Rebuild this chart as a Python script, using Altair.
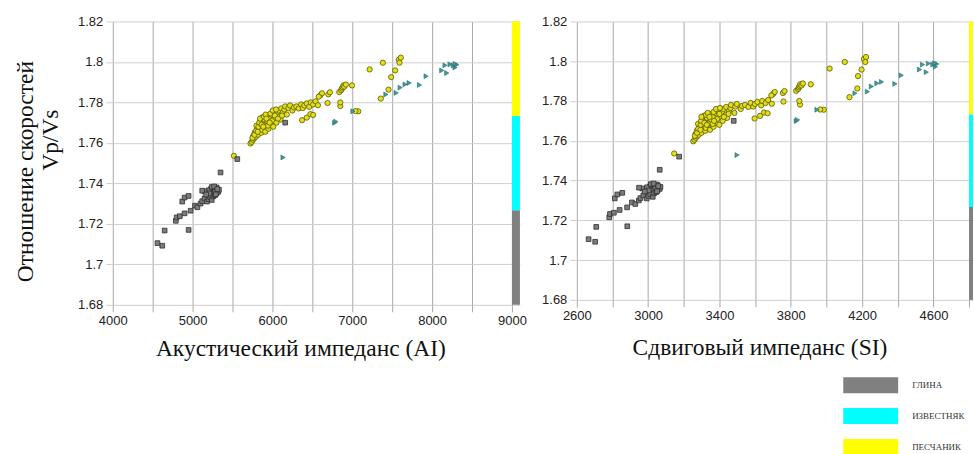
import altair as alt
import pandas as pd

# ---- Clay (ГЛИНА): acoustic impedance, shear impedance, Vp/Vs ----
clay_ai = [4560, 4620, 4650, 4950, 4790, 4800, 4840, 4900, 4975, 5030, 4870, 4900, 4950, 5060, 5100,
           5120, 5150, 5180, 5200, 5220, 5240, 5260, 5280, 5300, 5320, 5250, 5230, 5200, 5150, 5120,
           5260, 5280, 5300, 5240, 5330, 5210, 5170, 5290, 5350, 5560, 6160, 5270, 5310]
clay_si = [2666, 2703, 2709, 2883, 2782, 2786, 2808, 2840, 2882, 2909, 2813, 2827, 2855, 2928, 2948,
           2957, 2973, 2992, 3002, 3012, 3026, 3034, 3045, 3054, 3065, 3024, 3011, 2994, 2967, 2949,
           3027, 3040, 3050, 3015, 3069, 3003, 2981, 3050, 3065, 3174, 3480, 3031, 3057]
clay_vpvs = [1.7105, 1.7092, 1.7167, 1.7170, 1.7215, 1.7232, 1.7238, 1.7252, 1.7265, 1.7290, 1.7310,
             1.7330, 1.7338, 1.7282, 1.7300, 1.7312, 1.7325, 1.7310, 1.7322, 1.7332, 1.7318, 1.7336,
             1.7342, 1.7352, 1.7358, 1.7362, 1.7372, 1.7366, 1.7360, 1.7364, 1.7376, 1.7368, 1.7380,
             1.7382, 1.7368, 1.7350, 1.7345, 1.7346, 1.7454, 1.7520, 1.7700, 1.7385, 1.7372]

# ---- Limestone (ИЗВЕСТНЯК) ----
lime_ai = [6133, 6780, 6795, 7008, 7421, 7550, 7600, 7662, 7712, 7842, 7925, 8121, 8183, 8162, 8225,
           8266, 8287, 8308, 8290]
lime_si = [3499, 3831, 3838, 3947, 4160, 4230, 4252, 4283, 4309, 4384, 4420, 4522, 4560, 4539, 4572,
           4597, 4611, 4619, 4608]
lime_vpvs = [1.7528, 1.7699, 1.7705, 1.7756, 1.7839, 1.7847, 1.7873, 1.7889, 1.7896, 1.7886, 1.7929,
             1.7958, 1.7945, 1.7983, 1.7988, 1.7983, 1.7972, 1.7986, 1.7990]

# ---- Sandstone (ПЕСЧАНИК) ----
sand_ai = [5725, 5740, 5755, 5770, 5760, 5790, 5800, 5780, 5820, 5830, 5810, 5800, 5840, 5850, 5860,
           5870, 5880, 5850, 5870, 5900, 5900, 5910, 5920, 5940, 5950, 5960, 5930, 5980, 5990, 6000,
           6010, 6020, 6040, 6050, 6060, 6080, 6090, 6100, 6110, 6130, 6150, 6160, 6180, 6200, 6220,
           6250, 6270, 6300, 6330, 6360, 6380, 6400, 6430, 6460, 6480, 6510, 6540, 6570, 6600, 6620,
           6580, 6700, 6720, 6690, 6371, 6430, 6475, 6510, 5517, 6837, 6850, 6850, 6860, 6870, 6880,
           6890, 6900, 6920, 6996, 7075, 7040, 7217, 7383, 7537, 7487, 7583, 7608, 7591, 7454, 7358,
           5750, 5775, 5795, 5815, 5825, 5835, 5845, 5865, 5885, 5895, 5915, 5925, 5945, 5965, 5975,
           6005, 6030, 6045, 6070, 6120]
sand_si = [3253, 3260, 3267, 3274, 3266, 3284, 3287, 3274, 3299, 3301, 3288, 3280, 3301, 3310, 3320,
           3323, 3322, 3303, 3312, 3330, 3337, 3347, 3346, 3355, 3367, 3363, 3344, 3380, 3377, 3388,
           3399, 3392, 3408, 3418, 3415, 3423, 3435, 3443, 3438, 3454, 3462, 3465, 3484, 3489, 3497,
           3519, 3527, 3543, 3562, 3575, 3590, 3599, 3613, 3634, 3640, 3659, 3673, 3694, 3701, 3710,
           3691, 3756, 3765, 3759, 3597, 3628, 3650, 3670, 3146, 3830, 3852, 3848, 3841, 3845, 3849,
           3853, 3860, 3868, 3912, 3985, 3965, 4018, 4103, 4197, 4177, 4210, 4222, 4218, 4173, 4129,
           3262, 3274, 3281, 3294, 3295, 3297, 3299, 3315, 3329, 3325, 3334, 3344, 3362, 3370, 3367,
           3381, 3400, 3403, 3425, 3451]
sand_vpvs = [1.7597, 1.7605, 1.7615, 1.7622, 1.7635, 1.7630, 1.7645, 1.7652, 1.7640, 1.7660, 1.7670,
             1.7685, 1.7690, 1.7675, 1.7650, 1.7665, 1.7700, 1.7710, 1.7725, 1.7715, 1.7680, 1.7655,
             1.7690, 1.7705, 1.7670, 1.7720, 1.7735, 1.7690, 1.7740, 1.7710, 1.7680, 1.7750, 1.7725,
             1.7700, 1.7745, 1.7760, 1.7730, 1.7715, 1.7770, 1.7750, 1.7765, 1.7780, 1.7740, 1.7772,
             1.7785, 1.7760, 1.7775, 1.7780, 1.7770, 1.7790, 1.7772, 1.7785, 1.7795, 1.7778, 1.7800,
             1.7790, 1.7805, 1.7786, 1.7835, 1.7845, 1.7828, 1.7840, 1.7850, 1.7797, 1.7712, 1.7725,
             1.7742, 1.7738, 1.7536, 1.7851, 1.7782, 1.7800, 1.7860, 1.7868, 1.7875, 1.7884, 1.7878,
             1.7888, 1.7884, 1.7756, 1.7757, 1.7963, 1.7996, 1.7958, 1.7925, 1.8011, 1.8021, 1.7996,
             1.7863, 1.7819, 1.7625, 1.7640, 1.7660, 1.7655, 1.7680, 1.7700, 1.7720, 1.7690, 1.7680,
             1.7730, 1.7740, 1.7720, 1.7685, 1.7700, 1.7745, 1.7760, 1.7735, 1.7765, 1.7720, 1.7735]

# ---- Lithology colour bar / legend ----
lith_names = ["ГЛИНА", "ИЗВЕСТНЯК", "ПЕСЧАНИК"]
lith_colors = ["#808080", "#00ffff", "#ffff00"]
band_lo = [1.68, 1.7267, 1.7733]
band_hi = [1.7267, 1.7733, 1.82]

y_ticks = [1.68, 1.70, 1.72, 1.74, 1.76, 1.78, 1.80, 1.82]
ai_ticks = list(range(4000, 9001, 500))
si_ticks = list(range(2600, 4801, 200))

y_title_line1 = "Отношение скоростей"
y_title_line2 = ["Vp/Vs"]

TITLE_SIZE = 23.5


def frame(xs, ys, name):
    return pd.DataFrame({"x": xs, "vpvs": ys, "lith": name})


LEGEND = alt.Legend(
    orient="none", legendX=752, legendY=357, title=None, direction="vertical",
    symbolType="M-3.667,-1.07H3.667V1.07H-3.667Z", symbolSize=225, symbolStrokeWidth=0,
    labelFont="Liberation Serif", labelFontSize=9, labelColor="#333333",
    labelOffset=34, rowPadding=14,
)


def panel(clay_x, lime_x, sand_x, domain, ticks, label_expr, xtitle, title_x, title_y,
          height, with_ytitle, band_x0, band_x1, width):
    xenc = alt.X("x:Q", scale=alt.Scale(domain=domain, nice=False, zero=False),
                 axis=alt.Axis(values=ticks, labelExpr=label_expr, format="d", title=xtitle,
                               labelFlush=False,
                               titleX=title_x, titleY=title_y, titleAlign="center",
                               titleBaseline="alphabetic"))
    if with_ytitle:
        yaxis = alt.Axis(values=y_ticks, format=".2~f", title=y_title_line1, titleAngle=270,
                         labelFlush=False,
                         titleX=-87, titleY=150, titleAlign="center", titleBaseline="middle")
    else:
        yaxis = alt.Axis(values=y_ticks, format=".2~f", title=None, labelFlush=False)
    yenc = alt.Y("vpvs:Q", scale=alt.Scale(domain=[1.68, 1.82], nice=False, zero=False), axis=yaxis)

    band = pd.DataFrame({"x": [band_x0] * 3, "x_end": [band_x1] * 3, "vpvs": band_lo,
                         "vpvs_end": band_hi, "lith": lith_names})
    sand = alt.Chart(frame(sand_x, sand_vpvs, "ПЕСЧАНИК")).mark_point(
        shape="circle", filled=True, fill="#e2df1a", stroke="#5c5a00", strokeWidth=0.8,
        size=28, opacity=1).encode(x=xenc, y=yenc)
    clay = alt.Chart(frame(clay_x, clay_vpvs, "ГЛИНА")).mark_point(
        shape="square", filled=True, fill="#7c7c7c", stroke="#2e2e2e", strokeWidth=0.8,
        size=22, opacity=1).encode(x=xenc, y=yenc)
    lime = alt.Chart(frame(lime_x, lime_vpvs, "ИЗВЕСТНЯК")).mark_point(
        shape="triangle-right", filled=True, fill="#3f9e9e", stroke="#2a6a6a", strokeWidth=0.6,
        size=24, opacity=1).encode(x=xenc, y=yenc)
    bar = alt.Chart(band).mark_rect().encode(
        x=xenc, x2="x_end:Q", y=yenc, y2="vpvs_end:Q",
        color=alt.Color("lith:N", scale=alt.Scale(domain=lith_names, range=lith_colors),
                        legend=LEGEND))
    layers = [bar, sand, clay, lime]
    if with_ytitle:
        ylab = alt.Chart(pd.DataFrame({"t": y_title_line2})).mark_text(
            angle=270, font="Liberation Serif", fontSize=TITLE_SIZE, color="#111111",
            align="center", baseline="middle").encode(
            x=alt.value(-62), y=alt.value(119), text="t:N")
        layers.append(ylab)
    return alt.layer(*layers).properties(width=width, height=height)


left = panel(clay_ai, lime_ai, sand_ai, [4000, 9100], ai_ticks,
             "datum.value % 1000 == 0 ? datum.label : ''",
             "Акустический импеданс (AI)", 188, 51, 284, True, 9000, 9100, 408)
right = panel(clay_si, lime_si, sand_si, [2600, 4822], si_ticks,
              "(datum.value - 2600) % 400 == 0 && datum.value < 4800 ? datum.label : ''",
              "Сдвиговый импеданс (SI)", 183, 55, 279, False, 4800, 4822, 397)

chart = alt.hconcat(left, right, spacing=57, bounds="flush").resolve_scale(
    color="shared").properties(
    padding={"left": 13, "top": 14, "right": 0, "bottom": 0},
    background="white",
).configure_view(stroke="transparent").configure_axis(
    labelFont="Liberation Sans", labelFontSize=13, labelColor="#222222",
    titleFont="Liberation Serif", titleFontSize=TITLE_SIZE, titleFontWeight="normal",
    titleColor="#111111", domain=False, tickSize=7, labelPadding=3,
).configure_axisX(gridColor="#a9a9a9", tickColor="#a9a9a9", gridWidth=1
).configure_axisY(gridColor="#cfcfcf", tickColor="#cfcfcf", gridWidth=1)

chart.save("out.html", embed_options={"renderer": "svg", "actions": False})
